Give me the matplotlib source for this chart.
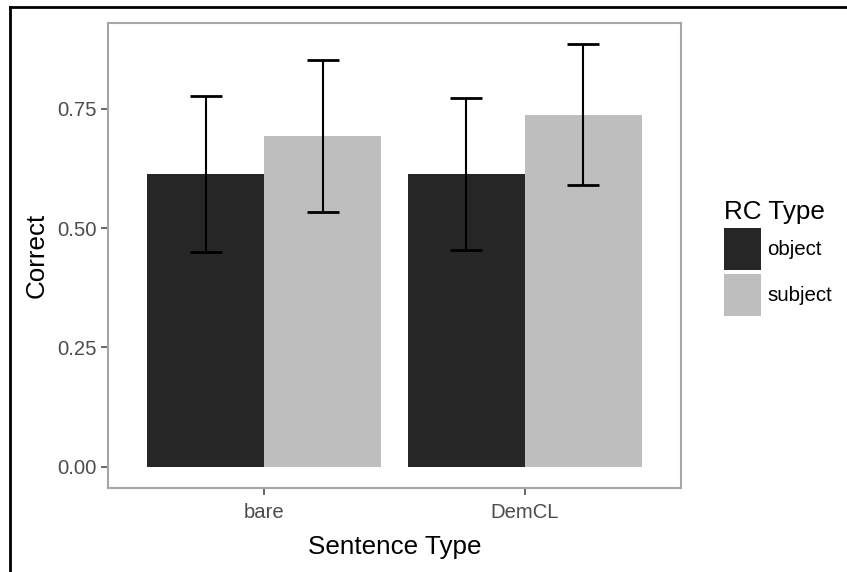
import numpy as np
import matplotlib
matplotlib.use("Agg")
import matplotlib.pyplot as plt
from matplotlib.lines import Line2D
from matplotlib.patches import Patch

plt.rcParams["font.family"] = ["Liberation Sans", "DejaVu Sans"]

# data
sentence_types = ["bare", "DemCL"]
rc_types = ["object", "subject"]
correct_object = [0.614, 0.614]
correct_subject = [0.692, 0.737]
lower_object = [0.449, 0.454]
upper_object = [0.777, 0.772]
lower_subject = [0.533, 0.591]
upper_subject = [0.852, 0.886]

fill_colors = {"object": "#262626", "subject": "#BEBEBE"}

W, H = 847, 572
fig = plt.figure(figsize=(W / 100, H / 100), dpi=100)
ax = fig.add_axes([108 / W, (H - 488) / H, (681 - 108) / W, (488 - 22.7) / H])

x = np.arange(1, len(sentence_types) + 1)
bw = 0.45
series = [
    ("object", correct_object, lower_object, upper_object, -bw / 2),
    ("subject", correct_subject, lower_subject, upper_subject, bw / 2),
]
for name, vals, lo, hi, off in series:
    vals = np.asarray(vals)
    ax.bar(x + off, vals, width=bw, color=fill_colors[name], zorder=2)
    yerr = np.vstack([vals - np.asarray(lo), np.asarray(hi) - vals])
    ax.errorbar(x + off, vals, yerr=yerr, fmt="none", ecolor="black",
                elinewidth=1.5, capsize=11.5, capthick=2.0, zorder=3)

ymax = max(upper_subject + upper_object)
ax.set_xlim(0.4, 2.6)
ax.set_ylim(-0.05 * ymax, ymax * 1.05)
ax.set_xticks(x)
ax.set_xticklabels(sentence_types)
ax.set_yticks([0, 0.25, 0.5, 0.75])
ax.set_yticklabels(["0.00", "0.25", "0.50", "0.75"])
ax.tick_params(axis="both", length=5, width=1.2, color="#4D4D4D",
               labelcolor="#4D4D4D", labelsize=14.6)
ax.tick_params(axis="x", pad=6)
ax.tick_params(axis="y", pad=3)
for sp in ax.spines.values():
    sp.set_color("#A6A6A6")
    sp.set_linewidth(1.5)

ax.set_xlabel("Sentence Type", fontsize=18.7, labelpad=9)
ax.set_ylabel("Correct", fontsize=18.7, labelpad=6)

handles = [Patch(facecolor=fill_colors[r], edgecolor="none") for r in rc_types]
leg = fig.legend(handles, rc_types, title="RC Type", loc="upper left",
                 bbox_to_anchor=(716 / W, 1 - 192 / H), frameon=False,
                 fontsize=14.8, title_fontsize=18.7, handlelength=1.8,
                 handleheight=2.75, labelspacing=0.2, handletextpad=0.3,
                 borderaxespad=0)
leg._legend_box.align = "left"

# outer frame of the screenshot (left and top edges only)
fig.add_artist(Line2D([9.5 / W, 9.5 / W], [0, 1 - 7 / H], transform=fig.transFigure,
                      color="black", linewidth=2))
fig.add_artist(Line2D([9.5 / W, 1], [1 - 7 / H, 1 - 7 / H], transform=fig.transFigure,
                      color="black", linewidth=2))

fig.savefig("out.png", dpi=100, facecolor="white")
